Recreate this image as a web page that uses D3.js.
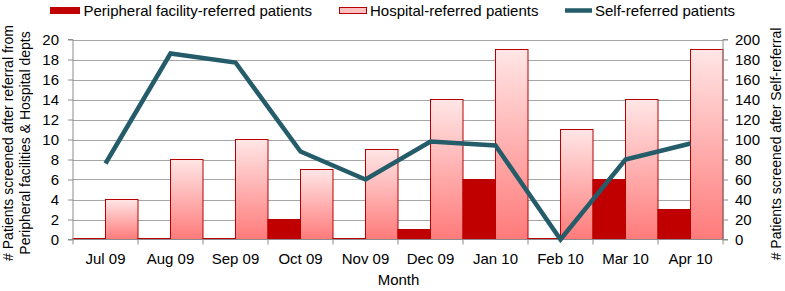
<!DOCTYPE html>
<html>
<head>
<meta charset="utf-8">
<script src="https://cdn.jsdelivr.net/npm/d3@7"></script>
<style>
  body { margin: 0; background: #fff; }
  text { font-family: "Liberation Sans", Arial, sans-serif; fill: #000; }
</style>
</head>
<body>
<div class="chart"></div>
<script>
// data
const months = ["Jul 09", "Aug 09", "Sep 09", "Oct 09", "Nov 09", "Dec 09", "Jan 10", "Feb 10", "Mar 10", "Apr 10"];
const peripheral = [0, 0, 0, 2, 0, 1, 6, 0, 6, 3];
const hospital = [4, 8, 10, 7, 9, 14, 19, 11, 14, 19];
const selfRef = [76, 186, 177, 88, 60, 98, 94, 0, 80, 96];
const leftTicks = [0, 2, 4, 6, 8, 10, 12, 14, 16, 18, 20];
const rightTicks = [0, 20, 40, 60, 80, 100, 120, 140, 160, 180, 200];

const width = 785, height = 291;
const plotL = 73, plotR = 723, plotT = 39.5, plotB = 239.5;

const svg = d3.select(".chart").append("svg")
  .attr("width", width)
  .attr("height", height);

const defs = svg.append("defs");
const grad = defs.append("linearGradient")
  .attr("id", "hospGrad")
  .attr("x1", 0).attr("y1", 0).attr("x2", 0).attr("y2", 1);
grad.append("stop").attr("offset", "0%").attr("stop-color", "#ffe6e6");
grad.append("stop").attr("offset", "100%").attr("stop-color", "#ff7a7a");

const x = d3.scaleBand().domain(months).range([plotL, plotR]).padding(0);
const y = d3.scaleLinear().domain([0, 20]).range([plotB, plotT]);
const y2 = d3.scaleLinear().domain([0, 200]).range([plotB, plotT]);
const bw = x.bandwidth() / 2;

// gridlines
svg.append("g")
  .selectAll("line")
  .data(leftTicks.slice(1))
  .join("line")
  .attr("x1", plotL).attr("x2", plotR)
  .attr("y1", d => Math.round(y(d)) + 0.5)
  .attr("y2", d => Math.round(y(d)) + 0.5)
  .attr("stroke", "#a6a6a6")
  .attr("stroke-width", 1);

// hospital bars
svg.append("g")
  .selectAll("rect")
  .data(hospital)
  .join("rect")
  .attr("x", (d, i) => x(months[i]) + bw)
  .attr("width", bw)
  .attr("y", d => y(d))
  .attr("height", d => Math.max(y(0) - y(d), 1))
  .attr("fill", "url(#hospGrad)")
  .attr("stroke", "#b80000")
  .attr("stroke-width", 1);

// peripheral bars
svg.append("g")
  .selectAll("rect")
  .data(peripheral)
  .join("rect")
  .attr("x", (d, i) => x(months[i]))
  .attr("width", bw)
  .attr("y", d => Math.min(y(d), y(0) - 1))
  .attr("height", d => Math.max(y(0) - y(d), 1))
  .attr("fill", "#c00000")
  .attr("stroke", "#b80000")
  .attr("stroke-width", 1);

// axes
const axisColor = "#8c8c8c";
const gl = svg.append("g")
  .attr("transform", `translate(${plotL},0)`)
  .call(d3.axisLeft(y).tickValues(leftTicks).tickSize(5).tickPadding(9));
const gr = svg.append("g")
  .attr("transform", `translate(${plotR},0)`)
  .call(d3.axisRight(y2).tickValues(rightTicks).tickSize(5).tickPadding(7));
const gb = svg.append("g")
  .attr("transform", `translate(0,${plotB})`)
  .call(d3.axisBottom(x).tickSize(0).tickPadding(14));

[gl, gr, gb].forEach(g => {
  g.select(".domain").attr("stroke", axisColor);
  g.selectAll(".tick line").attr("stroke", axisColor);
  g.selectAll("text").style("font-size", "15px").attr("fill", "#000");
});
gl.select(".domain").attr("d", `M-5,${plotT}H0V${plotB}H-5`);
gr.select(".domain").attr("d", `M5,${plotT}H0V${plotB}H5`);
gb.select(".domain").attr("d", `M${plotL},0H${plotR}`);
gb.selectAll(".tick text").attr("dy", "0.71em");

// bottom ticks at band edges
svg.append("g")
  .selectAll("line")
  .data(months.map(m => x(m)).concat([plotR]))
  .join("line")
  .attr("x1", d => d).attr("x2", d => d)
  .attr("y1", plotB).attr("y2", plotB + 5)
  .attr("stroke", axisColor);

// self-referred line
const line = d3.line()
  .x((d, i) => x(months[i]) + x.bandwidth() / 2)
  .y(d => y2(d));
svg.append("path")
  .datum(selfRef)
  .attr("d", line)
  .attr("fill", "none")
  .attr("stroke", "#255c69")
  .attr("stroke-width", 4.5)
  .attr("stroke-linejoin", "miter");

// axis titles
svg.append("text")
  .attr("x", (plotL + plotR) / 2 + 0.5)
  .attr("y", 285)
  .attr("text-anchor", "middle")
  .style("font-size", "15px")
  .text("Month");

const lt = svg.append("text")
  .attr("transform", "translate(13,143) rotate(-90)")
  .attr("text-anchor", "middle")
  .style("font-size", "14px");
lt.append("tspan").attr("x", 0).attr("dy", 0).text("# Patients screened after referral from");
lt.append("tspan").attr("x", 0).attr("dy", 16.5).text("Peripheral facilities & Hospital depts");

svg.append("text")
  .attr("transform", "translate(781,144) rotate(-90)")
  .attr("text-anchor", "middle")
  .style("font-size", "14px")
  .text("# Patients screened after Self-referral");

// legend
const legend = svg.append("g");
legend.append("rect")
  .attr("x", 50).attr("y", 7).attr("width", 30).attr("height", 7)
  .attr("fill", "#c00000");
legend.append("text").attr("x", 83.5).attr("y", 15.5)
  .style("font-size", "15px").text("Peripheral facility-referred patients");
legend.append("rect")
  .attr("x", 339.5).attr("y", 7.5).attr("width", 27).attr("height", 6)
  .attr("fill", "#ffc0c0").attr("stroke", "#b80000");
legend.append("text").attr("x", 370).attr("y", 15.5)
  .style("font-size", "15px").text("Hospital-referred patients");
legend.append("line")
  .attr("x1", 565).attr("x2", 592).attr("y1", 10.5).attr("y2", 10.5)
  .attr("stroke", "#255c69").attr("stroke-width", 4.5);
legend.append("text").attr("x", 595).attr("y", 15.5)
  .style("font-size", "15px").text("Self-referred patients");
</script>
</body>
</html>
